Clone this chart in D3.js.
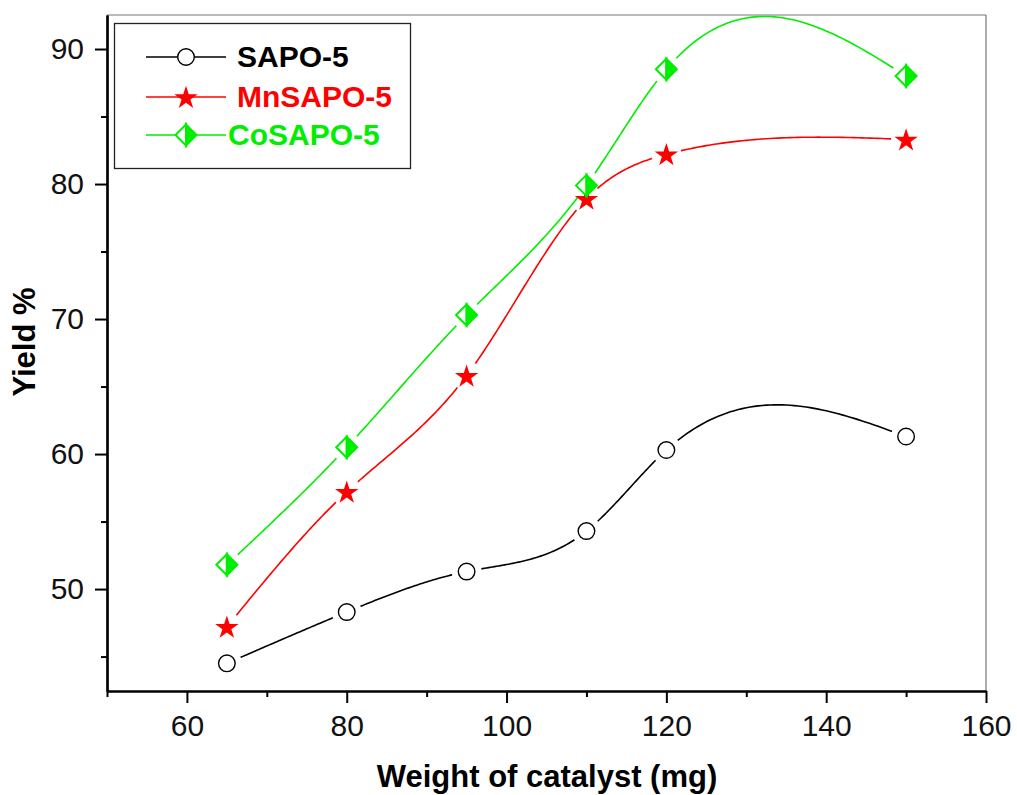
<!DOCTYPE html>
<html><head><meta charset="utf-8">
<script src="https://cdn.jsdelivr.net/npm/d3@7"></script>
<style>body{margin:0;background:#fff}svg{font-family:"Liberation Sans",Arial,sans-serif}</style>
</head><body><svg id="c" width="1017" height="795"></svg>
<script>
const weights = [65, 80, 95, 110, 120, 150];
const sapo5 = [44.5, 48.3, 51.3, 54.3, 60.3, 61.3];
const mnsapo5 = [47.2, 57.2, 65.8, 78.9, 82.2, 83.3];
const cosapo5 = [51.8, 60.5, 70.3, 79.9, 88.5, 88.0];
const seriesNames = ["SAPO-5", "MnSAPO-5", "CoSAPO-5"];
const xMajorTicks = [60, 80, 100, 120, 140, 160];
const xMinorTicks = [50, 70, 90, 110, 130, 150];
const yMajorTicks = [50, 60, 70, 80, 90];
const yMinorTicks = [45, 55, 65, 75, 85];

const svg = d3.select("#c");
const L = 107, R = 986, T = 15, B = 691;
const x = d3.scaleLinear().domain([50, 160]).range([L, R]);
const y = d3.scaleLinear().domain([42.45, 92.52]).range([B, T]);

const series = [
  {name: seriesNames[0], vals: sapo5, color: "#000000", marker: "circle"},
  {name: seriesNames[1], vals: mnsapo5, color: "#ff0000", marker: "star"},
  {name: seriesNames[2], vals: cosapo5, color: "#00ee00", marker: "diamond"}
];

// natural cubic spline y(x) through the data points (the chart's "spline" connector)
function splineSamples(xs, ys, perSeg) {
  const n = xs.length;
  const h = d3.range(n - 1).map(i => xs[i + 1] - xs[i]);
  const d = d3.range(n - 1).map(i => (ys[i + 1] - ys[i]) / h[i]);
  const a = [], b = [], c = [], r = [];
  for (let i = 1; i < n - 1; i++) {
    a.push(h[i - 1]); b.push(2 * (h[i - 1] + h[i])); c.push(h[i]); r.push(6 * (d[i] - d[i - 1]));
  }
  const m = a.length;
  for (let i = 1; i < m; i++) {
    const w = a[i] / b[i - 1];
    b[i] -= w * c[i - 1]; r[i] -= w * r[i - 1];
  }
  const Mi = new Array(m);
  for (let i = m - 1; i >= 0; i--) Mi[i] = (r[i] - (i < m - 1 ? c[i] * Mi[i + 1] : 0)) / b[i];
  const M = [0, ...Mi, 0];
  const out = [];
  for (let i = 0; i < n - 1; i++) {
    for (let k = 0; k <= perSeg; k++) {
      if (i > 0 && k === 0) continue;
      const t = k / perSeg, A = 1 - t, Bt = t;
      const xv = xs[i] + t * h[i];
      const yv = A * ys[i] + Bt * ys[i + 1] + ((A * A * A - A) * M[i] + (Bt * Bt * Bt - Bt) * M[i + 1]) * h[i] * h[i] / 6;
      out.push([xv, yv]);
    }
  }
  return out;
}

// frame top/right
svg.append("line").attr("x1", L).attr("x2", R).attr("y1", T).attr("y2", T).attr("stroke", "#777").attr("stroke-width", 1.2);
svg.append("line").attr("x1", R).attr("x2", R).attr("y1", T).attr("y2", B).attr("stroke", "#777").attr("stroke-width", 1.2);

// axes
const xAxis = svg.append("g").attr("transform", `translate(0,${B})`)
  .call(d3.axisBottom(x).tickValues(xMajorTicks).tickSize(12).tickPadding(12).tickSizeOuter(0));
const xMinor = svg.append("g").attr("transform", `translate(0,${B})`)
  .call(d3.axisBottom(x).tickValues(xMinorTicks).tickSize(6).tickFormat("").tickSizeOuter(0));
const yAxis = svg.append("g").attr("transform", `translate(${L},0)`)
  .call(d3.axisLeft(y).tickValues(yMajorTicks).tickSize(12).tickPadding(11).tickSizeOuter(0));
const yMinor = svg.append("g").attr("transform", `translate(${L},0)`)
  .call(d3.axisLeft(y).tickValues(yMinorTicks).tickSize(6).tickFormat("").tickSizeOuter(0));
[xAxis, xMinor, yAxis, yMinor].forEach(g => {
  g.selectAll("path.domain").attr("stroke", "#000").attr("stroke-width", 2.2);
  g.selectAll(".tick line").attr("stroke", "#000").attr("stroke-width", 2);
  g.selectAll("text").attr("font-size", 30).attr("font-family", "Liberation Sans, Arial, sans-serif").attr("fill", "#111");
});

// axis titles
svg.append("text").attr("x", 547).attr("y", 787).attr("text-anchor", "middle")
  .attr("font-size", 31).attr("font-weight", "bold").text("Weight of catalyst (mg)");
svg.append("text").attr("transform", "translate(35,342) rotate(-90)").attr("text-anchor", "middle")
  .attr("font-size", 31).attr("font-weight", "bold").text("Yield %");

const defs = svg.append("defs");
const starPath = d3.symbol().type(d3.symbolStar).size(170)();

function drawMarker(g, type, color, cx, cy) {
  if (type === "circle") {
    g.append("circle").attr("cx", cx).attr("cy", cy).attr("r", 8.3)
      .attr("fill", "#fff").attr("stroke", color).attr("stroke-width", 1.4);
  } else if (type === "star") {
    g.append("path").attr("d", starPath).attr("transform", `translate(${cx},${cy + 1})`)
      .attr("fill", color);
  } else {
    const h = 10.5;
    g.append("path").attr("d", `M${cx},${cy - h}L${cx - h},${cy}L${cx},${cy + h}Z`)
      .attr("fill", "#fff").attr("stroke", color).attr("stroke-width", 2);
    g.append("path").attr("d", `M${cx},${cy - h}L${cx + h},${cy}L${cx},${cy + h}Z`)
      .attr("fill", color).attr("stroke", color).attr("stroke-width", 2);
  }
}

const line = d3.line().x(p => x(p[0])).y(p => y(p[1]));
series.forEach((s, i) => {
  const m = defs.append("mask").attr("id", "m" + i).attr("maskUnits", "userSpaceOnUse")
    .attr("x", 0).attr("y", 0).attr("width", 1017).attr("height", 795);
  m.append("rect").attr("width", 1017).attr("height", 795).attr("fill", "#fff");
  weights.forEach((w, j) => m.append("circle").attr("cx", x(w)).attr("cy", y(s.vals[j])).attr("r", 15).attr("fill", "#000"));
  svg.append("path").attr("d", line(splineSamples(weights, s.vals, 60))).attr("fill", "none").attr("stroke", s.color)
    .attr("stroke-width", 1.6).attr("mask", `url(#m${i})`);
});
series.forEach(s => {
  const g = svg.append("g");
  weights.forEach((w, j) => drawMarker(g, s.marker, s.color, x(w), y(s.vals[j])));
});

// legend
svg.append("rect").attr("x", 114.5).attr("y", 23.5).attr("width", 296).attr("height", 145)
  .attr("fill", "#fff").attr("stroke", "#222").attr("stroke-width", 1.3);
const rowY = [57, 97, 135];
const textX = [237, 237, 228];
series.forEach((s, i) => {
  const g = svg.append("g");
  g.append("line").attr("x1", 146).attr("x2", 226).attr("y1", rowY[i]).attr("y2", rowY[i])
    .attr("stroke", s.color).attr("stroke-width", 1.6);
  drawMarker(g, s.marker, s.color, 186, rowY[i]);
  g.append("text").attr("x", textX[i]).attr("y", rowY[i] + 10).attr("font-size", 30)
    .attr("font-weight", "bold").attr("fill", s.color).text(s.name);
});
</script></body></html>
